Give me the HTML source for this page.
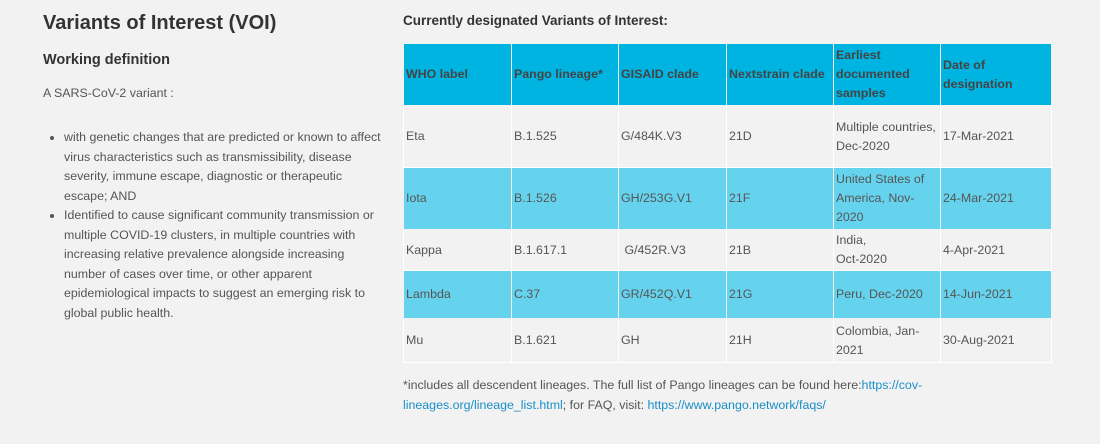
<!DOCTYPE html>
<html><head><meta charset="utf-8"><style>
body{margin:0;width:1100px;height:444px;background:#f2f2f2;font-family:"Liberation Sans",sans-serif;color:#555;position:relative;overflow:hidden}
.a{position:absolute}
h1{position:absolute;left:43px;top:12px;margin:0;font-size:20px;color:#333;font-weight:bold}
h2{position:absolute;left:43px;top:52px;margin:0;font-size:14.5px;color:#333;font-weight:bold}
ul{position:absolute;left:44px;top:128px;margin:0;padding-left:20px;width:318px;font-size:12.4px;line-height:19.5px}
table{position:absolute;left:403px;top:43px;width:648px;height:320px;border-collapse:collapse;table-layout:fixed;border:1px solid #333;font-size:12.4px}
td,th{border:1px solid #fff;padding:0 2px;text-align:left;vertical-align:middle;line-height:19px;color:#555;font-weight:normal}
th{background:#00b4e2;color:#444;font-weight:bold;border-color:#f2f2f2}
tr.b td{background:#66d3ee;border-color:#f2f2f2}
tr.w td{background:#f2f2f2;border-color:#fff}
a{color:#1a8fc7;text-decoration:none}
</style></head><body>
<h1>Variants of Interest (VOI)</h1>
<h2>Working definition</h2>
<div class="a" style="left:43px;top:86px;font-size:12.4px">A SARS-CoV-2 variant :</div>
<ul>
<li>with genetic changes that are predicted or known to affect virus characteristics such as transmissibility, disease severity, immune escape, diagnostic or therapeutic escape; AND</li>
<li>Identified to cause significant community transmission or multiple COVID-19 clusters, in multiple countries with increasing relative prevalence alongside increasing number of cases over time, or other apparent epidemiological impacts to suggest an emerging risk to global public health.</li>
</ul>
<div class="a" style="left:403px;top:13px;font-size:13.5px;font-weight:bold;color:#333">Currently designated Variants of Interest:</div>
<table>
<colgroup><col style="width:108px"><col style="width:107px"><col style="width:108px"><col style="width:107px"><col style="width:107px"><col style="width:111px"></colgroup>
<tr style="height:62px"><th>WHO label</th><th>Pango lineage*</th><th>GISAID clade</th><th>Nextstrain clade</th><th>Earliest documented samples</th><th>Date of designation</th></tr>
<tr class="w" style="height:62px"><td>Eta</td><td>B.1.525</td><td>G/484K.V3</td><td>21D</td><td>Multiple countries, Dec-2020</td><td>17-Mar-2021</td></tr>
<tr class="b" style="height:62px"><td>Iota</td><td>B.1.526</td><td>GH/253G.V1</td><td>21F</td><td>United States of America, Nov-2020</td><td>24-Mar-2021</td></tr>
<tr class="w" style="height:41px"><td>Kappa</td><td>B.1.617.1</td><td>&nbsp;G/452R.V3</td><td>21B</td><td>India,<br>Oct-2020</td><td>4-Apr-2021</td></tr>
<tr class="b" style="height:48px"><td>Lambda</td><td>C.37</td><td>GR/452Q.V1</td><td>21G</td><td>Peru, Dec-2020</td><td>14-Jun-2021</td></tr>
<tr class="w" style="height:44px"><td>Mu</td><td>B.1.621</td><td>GH</td><td>21H</td><td>Colombia, Jan-2021</td><td>30-Aug-2021</td></tr>
</table>
<div class="a" style="left:403px;top:376px;width:580px;font-size:12.4px;line-height:19.5px">*includes all descendent lineages. The full list of Pango lineages can be found here:<a href="#">https://cov-lineages.org/lineage_list.html</a>; for FAQ, visit: <a href="#">https://www.pango.network/faqs/</a></div>
</body></html>
